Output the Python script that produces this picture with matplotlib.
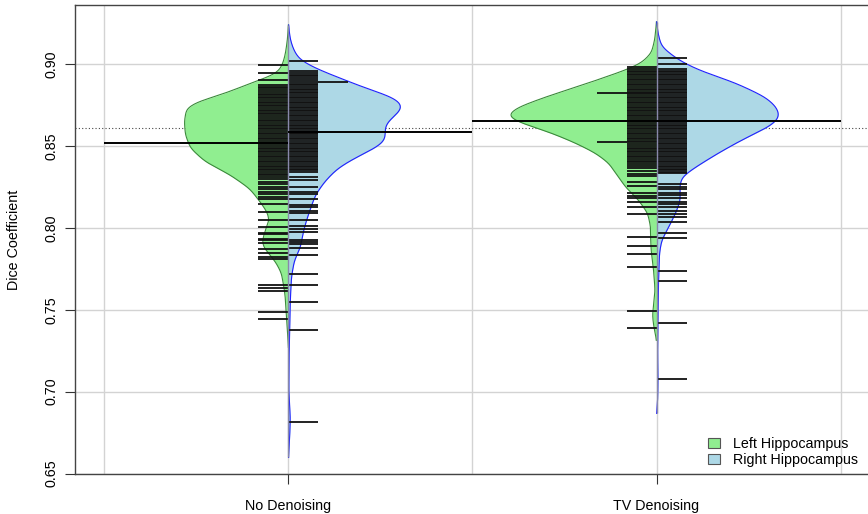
import numpy as np
import matplotlib
matplotlib.use("Agg")
import matplotlib.pyplot as plt
from matplotlib.patches import Patch

plt.rcParams['font.family'] = ['Liberation Sans', 'DejaVu Sans']

groups = ["No Denoising", "TV Denoising"]
sides = ["Left Hippocampus", "Right Hippocampus"]
fill_colors = ["#90EE90", "#ADD8E6"]
edge_colors = ["#3a8a3a", "#2020ff"]

# rug (beanline) values; repeated values = ties
no_left_vals = [0.8994, 0.8947, 0.8902, 0.887, 0.886, 0.8852, 0.884, 0.883, 0.8818, 0.881, 0.880,
                0.879, 0.8782, 0.877, 0.876, 0.875, 0.8742, 0.873, 0.872, 0.871, 0.870, 0.8692,
                0.868, 0.867, 0.866, 0.865, 0.8641, 0.863, 0.862, 0.861, 0.860, 0.8592, 0.858,
                0.857, 0.856, 0.855, 0.854, 0.853, 0.852, 0.851, 0.850, 0.849, 0.848, 0.847,
                0.846, 0.845, 0.844, 0.843, 0.842, 0.841, 0.840, 0.839, 0.838, 0.837, 0.836,
                0.835, 0.834, 0.833, 0.832, 0.831, 0.830, 0.828, 0.8265, 0.825, 0.8235, 0.822,
                0.8205, 0.819, 0.8177, 0.8144, 0.8097, 0.8050, 0.8002, 0.7971, 0.7962, 0.7932,
                0.7924, 0.7910, 0.7870, 0.7845, 0.7822, 0.7808, 0.7649, 0.7635, 0.7612, 0.7486,
                0.7446]
no_right_vals = [0.9016, 0.8957, 0.8945, 0.8935, 0.8925, 0.8915, 0.8905, 0.8892, 0.8892, 0.888,
                 0.887, 0.886, 0.885, 0.884, 0.883, 0.882, 0.881, 0.880, 0.879, 0.878, 0.877,
                 0.876, 0.875, 0.874, 0.873, 0.872, 0.871, 0.870, 0.869, 0.868, 0.867, 0.866,
                 0.865, 0.864, 0.863, 0.862, 0.861, 0.860, 0.859, 0.858, 0.857, 0.856, 0.855,
                 0.854, 0.853, 0.852, 0.851, 0.850, 0.849, 0.848, 0.847, 0.846, 0.845, 0.844,
                 0.843, 0.842, 0.841, 0.840, 0.839, 0.838, 0.837, 0.836, 0.835, 0.834, 0.8311,
                 0.829, 0.8250, 0.8220, 0.8205, 0.8173, 0.8142, 0.8128, 0.8104, 0.8091, 0.8050,
                 0.8012, 0.7990, 0.7974, 0.7924, 0.7914, 0.7904, 0.7875, 0.7833, 0.7720, 0.7651,
                 0.7545, 0.7378, 0.6812]
tv_left_vals = [0.8984, 0.897, 0.896, 0.895, 0.894, 0.893, 0.892, 0.891, 0.890, 0.889, 0.888,
                0.887, 0.886, 0.885, 0.884, 0.883, 0.8825, 0.8825, 0.882, 0.881, 0.880, 0.879,
                0.878, 0.877, 0.876, 0.875, 0.874, 0.873, 0.872, 0.871, 0.870, 0.869, 0.868,
                0.867, 0.866, 0.865, 0.864, 0.863, 0.862, 0.861, 0.860, 0.859, 0.858, 0.857,
                0.856, 0.855, 0.854, 0.853, 0.8522, 0.8522, 0.851, 0.850, 0.849, 0.848, 0.847,
                0.846, 0.845, 0.844, 0.843, 0.842, 0.841, 0.840, 0.839, 0.838, 0.8364, 0.8345,
                0.833, 0.8315, 0.828, 0.8255, 0.821, 0.8195, 0.818, 0.8155, 0.8128, 0.8087,
                0.7945, 0.7888, 0.7843, 0.7760, 0.7494, 0.7390]
tv_right_vals = [0.9035, 0.8998, 0.897, 0.896, 0.895, 0.894, 0.893, 0.892, 0.891, 0.890, 0.889,
                 0.888, 0.887, 0.886, 0.885, 0.884, 0.883, 0.882, 0.881, 0.880, 0.879, 0.878,
                 0.877, 0.876, 0.875, 0.874, 0.873, 0.872, 0.871, 0.870, 0.869, 0.868, 0.867,
                 0.866, 0.865, 0.864, 0.863, 0.862, 0.861, 0.860, 0.859, 0.858, 0.857, 0.856,
                 0.855, 0.854, 0.853, 0.852, 0.851, 0.850, 0.849, 0.848, 0.847, 0.846, 0.845,
                 0.844, 0.843, 0.842, 0.841, 0.840, 0.839, 0.838, 0.837, 0.836, 0.835, 0.834,
                 0.8332, 0.8267, 0.8252, 0.8237, 0.8213, 0.8198, 0.8180, 0.8158, 0.8145, 0.8128,
                 0.8105, 0.8087, 0.8065, 0.8036, 0.7971, 0.7940, 0.7737, 0.7678, 0.7420, 0.7078]

# bean outlines (density half-widths)
no_left_y = [0.9238, 0.9147, 0.9067, 0.9012, 0.8963, 0.8933, 0.8902, 0.8853, 0.8811, 0.8770,
             0.8729, 0.8647, 0.8566, 0.8485, 0.8403, 0.8322, 0.8240, 0.8179, 0.8120, 0.8089,
             0.8046, 0.8004, 0.7924, 0.7881, 0.7845, 0.7784, 0.7722, 0.7619, 0.7557, 0.7454,
             0.7374, 0.7270]
no_left_w = [0, 0.003, 0.008, 0.014, 0.024, 0.041, 0.079, 0.136, 0.185, 0.247,
             0.277, 0.283, 0.280, 0.266, 0.226, 0.158, 0.106, 0.084, 0.065, 0.057,
             0.052, 0.060, 0.071, 0.068, 0.054, 0.033, 0.019, 0.011, 0.008, 0.005,
             0.003, 0]
no_right_y = [0.9238, 0.9147, 0.9086, 0.9024, 0.8963, 0.8884, 0.8841, 0.8811, 0.8770, 0.8729,
              0.8688, 0.8647, 0.8607, 0.8566, 0.8525, 0.8485, 0.8424, 0.8362, 0.8281, 0.8199,
              0.8150, 0.8046, 0.7955, 0.7881, 0.7802, 0.7698, 0.7557, 0.7356, 0.7191, 0.6989,
              0.6916, 0.6842, 0.6763, 0.6671, 0.6598]
no_right_w = [0, 0.005, 0.014, 0.030, 0.084, 0.174, 0.223, 0.269, 0.304, 0.310,
              0.291, 0.269, 0.261, 0.264, 0.261, 0.234, 0.179, 0.133, 0.098, 0.073,
              0.065, 0.049, 0.038, 0.033, 0.016, 0.008, 0.005, 0.003, 0.0015, 0.001,
              0.003, 0.005, 0.004, 0.002, 0]
tv_left_y = [0.9257, 0.9147, 0.9067, 0.9006, 0.8963, 0.8884, 0.8798, 0.8737, 0.8694, 0.8670,
             0.8639, 0.8578, 0.8517, 0.8456, 0.8395, 0.8334, 0.8248, 0.8169, 0.8089, 0.8004,
             0.7924, 0.7845, 0.7741, 0.7619, 0.7527, 0.7466, 0.7405, 0.7313]
tv_left_w = [0, 0.005, 0.014, 0.041, 0.084, 0.185, 0.302, 0.375, 0.402, 0.397,
             0.367, 0.285, 0.220, 0.166, 0.130, 0.111, 0.084, 0.049, 0.024, 0.016,
             0.016, 0.014, 0.008, 0.004, 0.008, 0.011, 0.008, 0]
tv_right_y = [0.9257, 0.9177, 0.9104, 0.9024, 0.8963, 0.8884, 0.8798, 0.8737, 0.8688, 0.8658,
              0.8615, 0.8535, 0.8456, 0.8370, 0.8309, 0.8248, 0.8169, 0.8089, 0.8004, 0.7924,
              0.7845, 0.7637, 0.7234, 0.7068, 0.6946, 0.6867]
tv_right_w = [0, 0.005, 0.014, 0.060, 0.114, 0.215, 0.296, 0.326, 0.334, 0.329,
              0.304, 0.231, 0.168, 0.106, 0.068, 0.063, 0.065, 0.052, 0.033, 0.014,
              0.008, 0.005, 0.003, 0.004, 0.003, 0]

bean_means = [[0.8515, 0.8586], [0.8652, 0.8652]]
overall_mean = 0.8607

rugs = [[no_left_vals, no_right_vals], [tv_left_vals, tv_right_vals]]
outlines = [[(no_left_y, no_left_w), (no_right_y, no_right_w)],
            [(tv_left_y, tv_left_w), (tv_right_y, tv_right_w)]]


def smooth_outline(yy, ww):
    # resample the read outline on a fine grid and round off the corners
    yy = np.array(yy)[::-1]
    ww = np.array(ww)[::-1]
    fine = np.linspace(yy[0], yy[-1], 600)
    wf = np.interp(fine, yy, ww)
    k = np.exp(-0.5 * (np.arange(-15, 16) / 6.0) ** 2)
    k /= k.sum()
    padded = np.concatenate([np.zeros(15), wf, np.zeros(15)])
    wf = np.convolve(padded, k, mode='valid')
    return fine, wf


fig = plt.figure(figsize=(8.68, 5.14), dpi=100)
ax = fig.add_axes([75/868, 1-474/514, 795/868, 469/514])
ax.set_xlim(0.42, 2.58)
ax.set_ylim(0.6497, 0.936)

yticks = [0.65, 0.70, 0.75, 0.80, 0.85, 0.90]
for yv in yticks:
    ax.axhline(yv, color='#d3d3d3', lw=1, zorder=0)
for xv in [0.5, 1, 1.5, 2, 2.5]:
    ax.axvline(xv, color='#d3d3d3', lw=1, zorder=0)
ax.axhline(overall_mean, color='#444444', lw=0.8, ls=(0, (1, 2)), zorder=1)

ll = 0.0815  # beanline length per point
for g in range(2):
    c = g + 1
    for s in range(2):
        sign = -1 if s == 0 else 1
        yy, ww = smooth_outline(*outlines[g][s])
        ax.fill_betweenx(yy, c, c + sign * ww, color=fill_colors[s], lw=0, zorder=2)
        ax.plot(c + sign * ww, yy, color=edge_colors[s], lw=0.8, zorder=3)
        vals, counts = np.unique(np.array(rugs[g][s]), return_counts=True)
        ax.hlines(vals, c, c + sign * counts * ll, color='#111111', lw=1.3, zorder=4)
        ax.hlines(bean_means[g][s], c, c + sign * 0.5, color='black', lw=1.4, zorder=5)
    top = max(outlines[g][0][0][0], outlines[g][1][0][0])
    bot = min(outlines[g][0][0][-1], outlines[g][1][0][-1])
    ax.vlines(c, bot, top, color='#8888aa', lw=1, zorder=4)

ax.set_xticks([1, 2])
ax.set_xticklabels(groups, fontsize=10.3)
ax.set_yticks(yticks)
ax.set_yticklabels(["%.2f" % v for v in yticks], rotation=90, va='center', fontsize=10.3)
ax.tick_params(axis='both', length=7, width=0.8, color='#333333', pad=5)
ax.tick_params(axis='x', pad=11)
ax.set_ylabel("Dice Coefficient", fontsize=10.3, labelpad=17)
for sp in ax.spines.values():
    sp.set_color('#444444')
    sp.set_linewidth(1)

handles = [Patch(facecolor=fill_colors[i], edgecolor='#555555', lw=0.8) for i in range(2)]
ax.legend(handles, sides, loc='lower right', frameon=False, fontsize=10.3,
          bbox_to_anchor=(858/868, 1-467/514), bbox_transform=fig.transFigure,
          handlelength=0.85, handleheight=0.75, handletextpad=0.9, labelspacing=0.15,
          borderaxespad=0, borderpad=0)

fig.savefig("out.png", dpi=100)
